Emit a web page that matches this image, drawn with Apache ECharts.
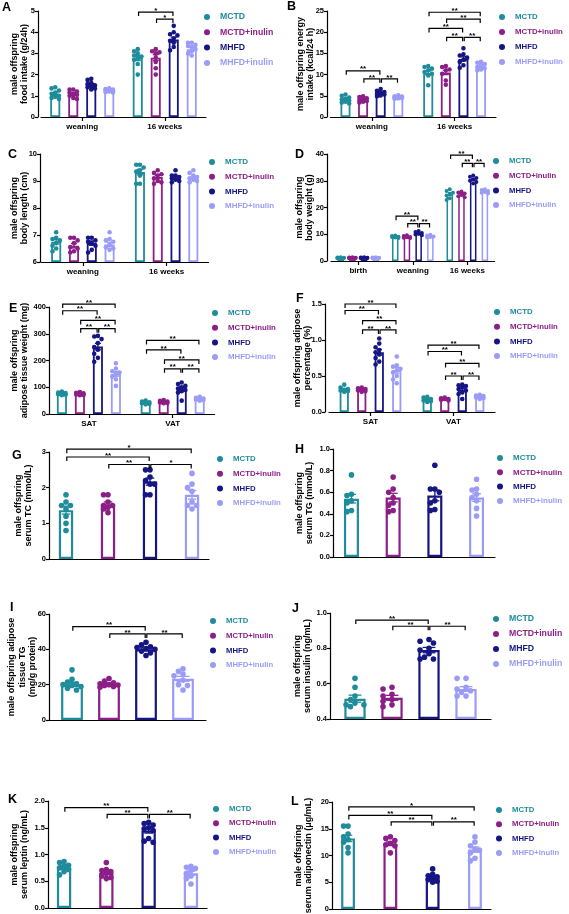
<!DOCTYPE html>
<html><head><meta charset="utf-8">
<script src="https://cdn.jsdelivr.net/npm/echarts@6.0.0/dist/echarts.min.js"></script>
<style>html,body{margin:0;padding:0;background:#fff}#c{width:569px;height:914px}</style>
</head><body><div id="c"></div>
<script>
const groups = ['MCTD','MCTD+inulin','MHFD','MHFD+inulin'];
const colors = ['#1e8c9b','#8c1e87','#151584','#9b9bf8'];

// ---- A: food intake ----
const A_cats = ['weaning','16 weeks'];
const A_mean = [[1.08,2.78],[1.07,2.80],[1.52,3.65],[1.25,3.20]];
const A_sem  = [[0.06,0.12],[0.05,0.14],[0.06,0.12],[0.03,0.07]];
const A_pts  = [
  [[1.40,1.35,1.25,1.15,1.10,1.00,0.95,0.90,0.85],[3.20,3.10,3.00,2.90,2.85,2.80,2.70,2.50,2.00]],
  [[1.30,1.30,1.20,1.15,1.10,1.05,1.00,0.90,0.85],[3.20,3.10,3.05,3.00,2.80,2.60,2.30,2.00]],
  [[1.80,1.75,1.60,1.55,1.50,1.45,1.40,1.35,1.30],[4.30,4.00,3.90,3.85,3.70,3.60,3.50,3.30,3.15]],
  [[1.35,1.32,1.30,1.28,1.25,1.22,1.20,1.18,1.15],[3.50,3.50,3.40,3.35,3.30,3.20,3.10,3.00,2.90]]
];
const A_sig = [[1,0,2,4.95,'*'],[1,1,2,4.62,'*']];
const A_yName = 'male offspring\nfood intake (g/24h)';

// ---- B: energy intake ----
const B_cats = ['weaning','16 weeks'];
const B_mean = [[4.2,10.4],[4.1,10.5],[5.6,13.7],[4.6,11.9]];
const B_sem  = [[0.2,0.45],[0.15,0.5],[0.2,0.5],[0.1,0.25]];
const B_pts  = [
  [[5.3,5.0,4.6,4.3,4.1,3.9,3.6,3.4,3.2],[12.0,11.8,11.4,11.0,10.6,10.2,9.8,7.5]],
  [[4.9,4.7,4.4,4.2,4.0,3.8,3.6,3.4],[12.0,11.8,11.2,11.0,10.2,8.6,7.6]],
  [[6.6,6.2,5.9,5.7,5.5,5.3,5.1,4.9],[16.2,14.8,14.5,14.0,13.5,13.0,12.2,11.6]],
  [[5.1,4.9,4.8,4.7,4.6,4.5,4.4,4.3],[13.0,12.8,12.5,12.2,11.8,11.5,11.2,11.0]]
];
const B_sig = [[0,0,2,10.9,'**'],[0,1,2,9.0,'**'],[0,2,3,9.0,'**'],[1,0,3,24.7,'**'],[1,1,3,23.1,'**'],[1,0,2,20.9,'**'],[1,1,2,18.8,'**'],[1,2,3,18.8,'**']];
const B_yName = 'male offspring energy\nintake (kcal/24 h)';

// ---- C: body length ----
const C_cats = ['weaning','16 weeks'];
const C_mean = [[6.75,9.33],[6.60,9.15],[6.70,9.10],[6.65,9.10]];
const C_sem  = [[0.08,0.10],[0.08,0.06],[0.08,0.05],[0.08,0.05]];
const C_pts  = [
  [[7.10,6.90,6.85,6.80,6.70,6.60,6.50,6.40],[9.60,9.60,9.50,9.40,9.35,9.20,8.90,8.90]],
  [[6.90,6.90,6.80,6.70,6.55,6.50,6.40,6.35],[9.40,9.30,9.25,9.20,9.10,9.00,8.95,8.90]],
  [[6.90,6.90,6.80,6.75,6.70,6.60,6.45,6.35],[9.40,9.20,9.20,9.15,9.10,9.05,9.00,8.95]],
  [[7.10,6.85,6.80,6.75,6.65,6.55,6.50,6.45],[9.40,9.30,9.20,9.15,9.10,9.05,9.00,8.95]]
];
const C_sig = [];
const C_yName = 'male offspring\nbody length (cm)';

// ---- D: body weight ----
const D_cats = ['birth','weaning','16 weeks'];
const D_mean = [[1.2,9.0,25.0],[1.2,9.0,24.8],[1.2,10.2,30.5],[1.2,9.2,26.0]];
const D_sem  = [[0.05,0.2,0.5],[0.05,0.15,0.4],[0.05,0.25,0.4],[0.05,0.15,0.3]];
const D_pts  = [
  [[1.4,1.3,1.25,1.2,1.15,1.1,1.0],[9.5,9.3,9.1,9.0,8.8,8.6],[26.8,26.2,25.5,25.0,24.5,23.5,22.8]],
  [[1.4,1.3,1.25,1.2,1.15,1.1,1.0],[9.6,9.3,9.0,8.9,8.7,8.6],[26.0,25.6,25.2,24.8,24.2,23.8]],
  [[1.4,1.3,1.25,1.2,1.15,1.1,1.0],[11.2,10.8,10.5,10.2,9.9,9.6],[32.0,31.5,31.0,30.5,30.0,29.5,29.0]],
  [[1.4,1.3,1.25,1.2,1.15,1.1,1.0],[9.8,9.5,9.2,9.0,8.8],[26.8,26.5,26.2,25.8,25.5,25.2]]
];
const D_sig = [[1,0,2,16.75,'**'],[1,1,2,14,'**'],[1,2,3,14,'**'],[2,0,2,39.6,'**'],[2,1,2,36.5,'**'],[2,2,3,36.5,'**']];
const D_yName = 'male offspring\nbody weight (g)';

// ---- E: adipose tissue weight ----
const E_cats = ['SAT','VAT'];
const E_mean = [[75,42],[75,45],[252,95],[150,55]];
const E_sem  = [[3,2.5],[3,2.5],[12,7],[9,3]];
const E_pts  = [
  [[84,80,78,76,74,72,70],[50,47,44,42,40,38,36]],
  [[82,79,77,75,73,71,70],[52,49,47,45,43,41,40]],
  [[292,290,280,265,250,240,225,210,195],[118,112,105,100,95,90,85,80,50]],
  [[190,170,160,155,150,140,130,105],[64,61,58,56,54,52,50]]
];
const E_sig = [[0,0,3,411,'**'],[0,0,2,386,'**'],[0,1,3,350,'**'],[0,1,2,319,'**'],[0,2,3,319,'**'],[1,0,3,275,'**'],[1,0,2,240,'**'],[1,1,3,202,'**'],[1,1,2,169,'**'],[1,2,3,169,'**']];
const E_yName = 'male offspring\nadipose tissue weight (mg)';

// ---- F: adipose percentage ----
const F_cats = ['SAT','VAT'];
const F_mean = [[0.31,0.17],[0.31,0.18],[0.83,0.31],[0.58,0.21]];
const F_sem  = [[0.01,0.01],[0.01,0.008],[0.04,0.02],[0.04,0.01]];
const F_pts  = [
  [[0.38,0.34,0.32,0.31,0.30,0.29,0.28],[0.21,0.20,0.18,0.17,0.16,0.15,0.14]],
  [[0.34,0.33,0.32,0.31,0.30,0.29,0.28],[0.20,0.19,0.18,0.18,0.17,0.16]],
  [[1.02,0.95,0.90,0.86,0.83,0.80,0.75,0.70,0.66],[0.38,0.37,0.36,0.34,0.32,0.30,0.27,0.25,0.18]],
  [[0.77,0.65,0.63,0.60,0.58,0.55,0.50,0.45,0.40],[0.24,0.23,0.22,0.21,0.20,0.19,0.18]]
];
const F_sig = [[0,0,3,1.5,'**'],[0,0,2,1.41,'**'],[0,1,3,1.27,'**'],[0,1,2,1.14,'**'],[0,2,3,1.14,'**'],[1,0,3,0.93,'**'],[1,0,2,0.84,'**'],[1,1,3,0.675,'**'],[1,1,2,0.5,'**'],[1,2,3,0.5,'**']];
const F_yName = 'male offspring adipose\npercentage (%)';

// ---- G: serum TC ----
const G_cats = [''];
const G_mean = [[1.37],[1.53],[2.17],[1.80]];
const G_sem  = [[0.11],[0.07],[0.10],[0.12]];
const G_pts  = [
  [[1.8,1.6,1.5,1.5,1.4,1.2,1.0,0.8]],
  [[1.8,1.8,1.6,1.5,1.5,1.45,1.4,1.3]],
  [[2.5,2.5,2.3,2.2,2.1,2.1,1.8,1.8]],
  [[2.4,2.1,2.0,1.9,1.6,1.5,1.5,1.4]]
];
const G_sig = [[0,0,3,3.08,'*'],[0,0,2,2.86,'**'],[0,1,2,2.65,'**'],[0,2,3,2.65,'*']];
const G_yName = 'male offspring\nserum TC (mmol/L)';

// ---- H: serum TG ----
const H_cats = [''];
const H_mean = [[0.54],[0.55],[0.57],[0.55]];
const H_sem  = [[0.04],[0.04],[0.05],[0.035]];
const H_pts  = [
  [[0.76,0.58,0.57,0.52,0.50,0.43,0.42]],
  [[0.74,0.63,0.60,0.55,0.50,0.48,0.43,0.42]],
  [[0.85,0.63,0.63,0.60,0.52,0.50,0.44,0.43]],
  [[0.72,0.63,0.62,0.58,0.55,0.52,0.45,0.38]]
];
const H_sig = [];
const H_yName = 'male offspring\nserum TG (mmol/L)';

// ---- I: adipose tissue TG ----
const I_cats = [''];
const I_mean = [[20.2],[20.2],[40.0],[23.3]];
const I_sem  = [[1.1],[0.6],[0.8],[1.4]];
const I_pts  = [
  [[28.4,23.0,21.5,20.5,20.0,19.5,19.0,18.0,17.0]],
  [[23.5,22.0,21.0,20.5,20.0,19.8,19.5,19.0,18.5]],
  [[44.0,42.5,41.5,41.0,40.5,40.0,39.0,38.0,36.5]],
  [[29.0,27.5,26.0,25.0,22.5,20.0,19.5,17.0]]
];
const I_sig = [[0,0,2,52.8,'**'],[0,1,2,48.7,'**'],[0,2,3,48.7,'**']];
const I_yName = 'male offspring adipose\ntissue TG\n(mg/g protein)';

// ---- J: serum insulin ----
const J_cats = [''];
const J_mean = [[0.515],[0.52],[0.79],[0.57]];
const J_sem  = [[0.02],[0.014],[0.015],[0.013]];
const J_pts  = [
  [[0.63,0.58,0.53,0.51,0.49,0.48,0.48,0.47]],
  [[0.58,0.57,0.54,0.53,0.51,0.50,0.48,0.47]],
  [[0.85,0.84,0.83,0.80,0.79,0.77,0.75,0.74,0.74]],
  [[0.63,0.63,0.58,0.57,0.56,0.55,0.53,0.53]]
];
const J_sig = [[0,0,2,0.96,'**'],[0,1,2,0.925,'**'],[0,2,3,0.925,'**']];
const J_yName = 'male offspring\nserum insulin (ng/mL)';

// ---- K: serum leptin ----
const K_cats = [''];
const K_mean = [[0.76],[0.66],[1.45],[0.65]];
const K_sem  = [[0.03],[0.03],[0.05],[0.04]];
const K_pts  = [
  [[0.87,0.85,0.80,0.78,0.75,0.72,0.68,0.62]],
  [[0.85,0.72,0.70,0.68,0.65,0.60,0.57,0.55]],
  [[1.60,1.58,1.55,1.50,1.48,1.45,1.30,1.25,1.23]],
  [[0.78,0.76,0.74,0.70,0.65,0.60,0.55,0.45]]
];
const K_sig = [[0,0,2,1.875,'**'],[0,1,2,1.75,'**'],[0,2,3,1.75,'**']];
const K_yName = 'male offspring\nserum leptin (ng/mL)';

// ---- L: serum adiponectin ----
const L_cats = [''];
const L_mean = [[13.2],[12.2],[5.8],[11.1]];
const L_sem  = [[0.6],[0.35],[0.3],[0.5]];
const L_pts  = [
  [[15.5,15.5,14.0,13.5,13.0,12.5,11.5,10.5]],
  [[13.5,13.2,12.8,12.3,12.0,11.8,10.5]],
  [[7.5,6.5,6.2,6.0,5.8,5.5,5.2,5.0]],
  [[13.5,12.5,11.8,11.2,11.0,10.5,9.5,9.0]]
];
const L_sig = [[0,0,3,19.1,'*'],[0,0,2,17.5,'**'],[0,1,2,16.3,'**'],[0,2,3,16.3,'**']];
const L_yName = 'male offspring\nserum adiponectin (μg/mL)';

// ---- axis scales: [min, max, interval, decimals] ----
const yScales = {
  A:[0,5,1,0], B:[0,25,5,0], C:[6,10,1,0], D:[0,40,10,0], E:[0,400,100,0], F:[0,1.5,0.5,1],
  G:[0,3,1,0], H:[0,1,0.2,1], I:[0,60,20,0], J:[0.4,1.0,0.2,1], K:[0,2,0.5,1], L:[0,20,5,0]
};

// ---- layout (pixels) ----
const layouts = {
  A:{left:41,right:206,top:11,bottom:117,yOff:3,bw:10,bord:1.8,step:18,r:2.3,legX:212,legY:17,pitch:15.3,legFont:8.7,nameGap:8,letter:[2,8],showX:true},
  B:{left:330.5,right:496,top:11,bottom:117,yOff:3.5,bw:10,bord:1.8,step:17.6,r:2.3,legX:507,legY:17,pitch:15,legFont:7.8,nameGap:11,letter:[287,7],showX:true},
  C:{left:41,right:208.5,top:154,bottom:262,yOff:1,bw:10,bord:1.8,step:17.8,r:2.3,legX:217,legY:162,pitch:14.7,legFont:8,nameGap:10,letter:[8,155.5],showX:true},
  D:{left:331,right:494.6,top:154,bottom:261,yOff:4,bw:6.5,bord:1.5,step:11.7,r:2,legX:501,legY:161,pitch:14.7,legFont:7.7,nameGap:12,letter:[295,155.5],showX:true},
  E:{left:47,right:214.6,top:307,bottom:414,yOff:-2,bw:10,bord:1.8,step:18,r:2.3,legX:220,legY:313,pitch:14.7,legFont:7.8,nameGap:19,letter:[9,309.5],showX:true},
  F:{left:329,right:495,top:304,bottom:412,yOff:4,bw:9.2,bord:1.8,step:17.5,r:2.3,legX:502,legY:312,pitch:14.7,legFont:7.8,nameGap:12,letter:[296,299],showX:true},
  G:{left:49,right:209,top:452,bottom:559,yOff:0,bw:14.3,bord:2.2,step:42,r:2.8,legX:225,legY:459,pitch:14.7,legFont:7.8,nameGap:15,letter:[12,456],showX:false},
  H:{left:333,right:495,top:449,bottom:557,yOff:0,bw:15,bord:2.2,step:41.7,r:2.8,legX:505,legY:458,pitch:14.3,legFont:8,nameGap:18,letter:[295,450.5],showX:false},
  I:{left:49,right:206,top:614,bottom:720,yOff:0,bw:21.8,bord:2.2,step:37,r:2.8,legX:218,legY:621,pitch:14.7,legFont:7.7,nameGap:11,letter:[10,608],showX:false},
  J:{left:330,right:491,top:613,bottom:719,yOff:0,bw:21.3,bord:2.2,step:37,r:2.8,legX:501,legY:619,pitch:15,legFont:8.7,nameGap:17,letter:[292,609],showX:false},
  K:{left:48,right:207,top:801,bottom:908,yOff:0,bw:14.3,bord:2.2,step:42.3,r:2.8,legX:221,legY:809,pitch:14.3,legFont:7.7,nameGap:18,letter:[8,800.5],showX:false},
  L:{left:332,right:491,top:802,bottom:909,yOff:0,bw:13.8,bord:2.2,step:42.3,r:2.8,legX:504,legY:810,pitch:14.3,legFont:7.7,nameGap:18,letter:[291,802.5],showX:false}
};

const panels = [
  {key:'A',cats:A_cats,mean:A_mean,sem:A_sem,pts:A_pts,sig:A_sig,yName:A_yName},
  {key:'B',cats:B_cats,mean:B_mean,sem:B_sem,pts:B_pts,sig:B_sig,yName:B_yName},
  {key:'C',cats:C_cats,mean:C_mean,sem:C_sem,pts:C_pts,sig:C_sig,yName:C_yName},
  {key:'D',cats:D_cats,mean:D_mean,sem:D_sem,pts:D_pts,sig:D_sig,yName:D_yName},
  {key:'E',cats:E_cats,mean:E_mean,sem:E_sem,pts:E_pts,sig:E_sig,yName:E_yName},
  {key:'F',cats:F_cats,mean:F_mean,sem:F_sem,pts:F_pts,sig:F_sig,yName:F_yName},
  {key:'G',cats:G_cats,mean:G_mean,sem:G_sem,pts:G_pts,sig:G_sig,yName:G_yName},
  {key:'H',cats:H_cats,mean:H_mean,sem:H_sem,pts:H_pts,sig:H_sig,yName:H_yName},
  {key:'I',cats:I_cats,mean:I_mean,sem:I_sem,pts:I_pts,sig:I_sig,yName:I_yName},
  {key:'J',cats:J_cats,mean:J_mean,sem:J_sem,pts:J_pts,sig:J_sig,yName:J_yName},
  {key:'K',cats:K_cats,mean:K_mean,sem:K_sem,pts:K_pts,sig:K_sig,yName:K_yName},
  {key:'L',cats:L_cats,mean:L_mean,sem:L_sem,pts:L_pts,sig:L_sig,yName:L_yName}
];

const FONT = '"Liberation Sans", Arial, Helvetica, sans-serif';

function dotsRender(P, Lo, g) {
  return function (params, api) {
    const ci = api.value(0);
    const mean = api.value(1);
    const base = api.coord([ci, mean]);
    const cx = base[0] + (g - 1.5) * Lo.step;
    const sem = P.sem[g][ci];
    const yHi = api.coord([ci, mean + sem])[1];
    const yLo = api.coord([ci, mean - sem])[1];
    const cw = Lo.bw * 0.3;
    const col = colors[g];
    const children = [
      {type:'line', shape:{x1:cx,y1:yHi,x2:cx,y2:yLo}, style:{stroke:col,lineWidth:1.3}},
      {type:'line', shape:{x1:cx-cw,y1:yHi,x2:cx+cw,y2:yHi}, style:{stroke:col,lineWidth:1.3}},
      {type:'line', shape:{x1:cx-cw,y1:yLo,x2:cx+cw,y2:yLo}, style:{stroke:col,lineWidth:1.3}}
    ];
    const ys = P.pts[g][ci].map(v => api.coord([ci, v])[1]).sort((a, b) => a - b);
    const r = Lo.r, d = 2 * r;
    const s = d * 0.8;
    const placed = [];
    const maxOff = Math.max(Lo.bw / 2, s);
    ys.forEach(py => {
      let best = 0, bestScore = Infinity;
      for (let k = 0; k < 11; k++) {
        const off = k === 0 ? 0 : ((k % 2) ? -1 : 1) * Math.ceil(k / 2) * s;
        if (Math.abs(off) > maxOff + 0.01) continue;
        let overlap = 0;
        placed.forEach(q => {
          const dist = Math.hypot(q[0] - off, q[1] - py);
          if (dist < d * 0.9) overlap += (d * 0.9 - dist);
        });
        if (overlap < 1e-6) { best = off; bestScore = 0; break; }
        if (overlap < bestScore) { bestScore = overlap; best = off; }
      }
      placed.push([best, py]);
    });
    placed.forEach(q => {
      children.push({type:'circle', shape:{cx:cx + q[0], cy:q[1], r:r}, style:{fill:col}});
    });
    return {type:'group', children};
  };
}

function sigRender(P, Lo) {
  return function (params, api) {
    const row = P.sig[params.dataIndex];
    const c = api.coord([row[0], row[3]]);
    const x1 = c[0] + (row[1] - 1.5) * Lo.step + 0.8;
    const x2 = c[0] + (row[2] - 1.5) * Lo.step - 0.8;
    const yy = c[1];
    return {type:'group', children:[
      {type:'polyline', shape:{points:[[x1,yy+4],[x1,yy],[x2,yy],[x2,yy+4]]}, style:{stroke:'#000',lineWidth:1.2,fill:'none'}},
      {type:'text', style:{text:row[4], x:(x1+x2)/2, y:yy+2.5, align:'center', verticalAlign:'bottom', font:'bold 8px ' + FONT, fill:'#000'}}
    ]};
  };
}

const grid = [], xAxis = [], yAxis = [], series = [], legend = [], graphic = [];
panels.forEach((P, p) => {
  const Lo = layouts[P.key];
  const sc = yScales[P.key];
  grid.push({left:Lo.left, top:Lo.top, width:Lo.right - Lo.left, height:Lo.bottom - Lo.top, containLabel:false, outerBoundsMode:'none'});
  xAxis.push({
    type:'category', gridIndex:p, data:P.cats, boundaryGap:true,
    axisLine:{show:true, onZero:false, lineStyle:{color:'#000', width:1.2}},
    axisTick:{show:Lo.showX, alignWithLabel:true, interval:0, length:4, lineStyle:{color:'#000', width:1.2}},
    axisLabel:{show:Lo.showX, interval:0, color:'#000', fontWeight:'bold', fontSize:8, fontFamily:FONT, margin:6},
    splitLine:{show:false}
  });
  yAxis.push({
    type:'value', gridIndex:p, min:sc[0], max:sc[1], interval:sc[2], offset:Lo.yOff, startValue:sc[0],
    name:P.yName, nameLocation:'middle', nameGap:Lo.nameGap, nameMoveOverlap:false,
    nameTextStyle:{color:'#000', fontWeight:'bold', fontSize:9, lineHeight:10.5, fontFamily:FONT},
    axisLine:{show:true, lineStyle:{color:'#000', width:1.2}},
    axisTick:{show:true, length:3, lineStyle:{color:'#000', width:1.2}},
    axisLabel:{color:'#000', fontWeight:'bold', fontSize:7.5, fontFamily:FONT, margin:3,
      formatter: v => Number(v).toFixed(sc[3])},
    splitLine:{show:false}
  });
  const gapPct = ((Lo.step - Lo.bw) / Lo.bw * 100).toFixed(2) + '%';
  groups.forEach((name, g) => {
    series.push({
      type:'bar', name, xAxisIndex:p, yAxisIndex:p, data:P.mean[g],
      barWidth:Lo.bw, barGap:gapPct, silent:true, animation:false, clip:true,
      itemStyle:{color:'#fff', borderColor:colors[g], borderWidth:Lo.bord}
    });
  });
  groups.forEach((name, g) => {
    series.push({
      type:'custom', name, xAxisIndex:p, yAxisIndex:p, silent:true, animation:false, z:3,
      data:P.mean[g].map((m, i) => [i, m]), encode:{x:0, y:1},
      renderItem:dotsRender(P, Lo, g)
    });
  });
  if (P.sig.length) {
    series.push({
      type:'custom', name:'sig' + P.key, xAxisIndex:p, yAxisIndex:p, silent:true, animation:false, z:4, clip:false,
      data:P.sig.map(r => [r[0], r[3]]), encode:{x:0, y:1},
      renderItem:sigRender(P, Lo)
    });
  }
  legend.push({
    show:true, orient:'vertical', left:Lo.legX - 8, top:Lo.legY - 5.5, padding:0,
    itemGap:Lo.pitch - 11, itemWidth:16, itemHeight:6, icon:'circle', selectedMode:false,
    textStyle:{fontSize:Lo.legFont, fontWeight:'bold', fontFamily:FONT, lineHeight:11},
    data:groups.map((n, i) => ({name:n, icon:'circle', itemStyle:{color:colors[i], borderWidth:0}, textStyle:{color:colors[i]}}))
  });
  graphic.push({type:'text', left:Lo.letter[0], top:Lo.letter[1] - 7, style:{text:P.key, font:'bold 12.5px ' + FONT, fill:'#000'}});
});

const chart = echarts.init(document.getElementById('c'), null, {renderer:'canvas', width:569, height:914});
chart.setOption({
  animation:false, backgroundColor:'#fff',
  grid, xAxis, yAxis, series, legend, graphic,
  tooltip:{show:false}
});
</script>
</body></html>
